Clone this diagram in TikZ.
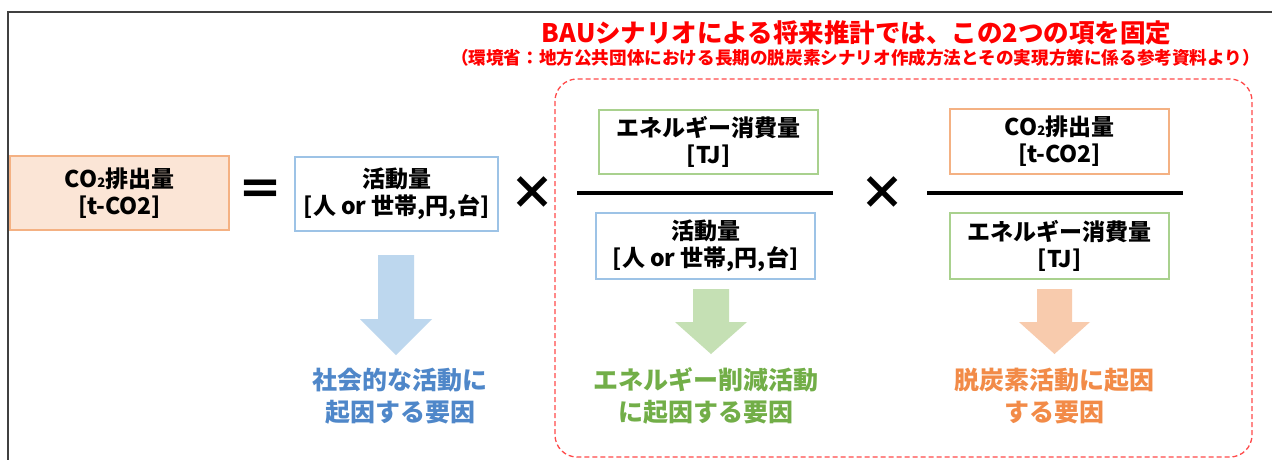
\documentclass[tikz,border=0pt]{standalone}
\usepackage{fontspec}
\setmainfont{Noto Sans CJK JP}
\definecolor{frameGray}{HTML}{404040}
\definecolor{orFill}{HTML}{FBE5D6}
\definecolor{orLine}{HTML}{F4B183}
\definecolor{blLine}{HTML}{9DC3E6}
\definecolor{grLine}{HTML}{A9D18E}
\definecolor{blArrow}{HTML}{BDD7EE}
\definecolor{grArrow}{HTML}{C5E0B4}
\definecolor{orArrow}{HTML}{F8CBAD}
\definecolor{blText}{HTML}{4F87C9}
\definecolor{grText}{HTML}{72AE48}
\definecolor{orText}{HTML}{F28B48}
\definecolor{titleRed}{HTML}{FF0000}
\definecolor{dashRed}{HTML}{FF4B4B}
\tikzset{
  termbox/.style={draw, line width=1.3pt, minimum width=219pt, minimum height=66pt,
    align=center, inner sep=0pt, font=\fontsize{23}{27}\selectfont\bfseries},
  lbl/.style={align=center, inner sep=0pt, font=\fontsize{25}{31.5}\selectfont\bfseries},
  opsign/.style={inner sep=0pt, font=\fontsize{46}{46}\selectfont\bfseries},
  fracbar/.style={line width=4pt, black},
}
\newcommand{\smalltwo}{{\fontsize{13}{13}\selectfont 2}}
\begin{document}
\begin{tikzpicture}[x=1pt,y=-1pt]
\useasboundingbox (0,0) rectangle (1272,459);
\clip (0,0) rectangle (1272,459);
\fill[white] (0,0) rectangle (1272,459);
% outer frame
\draw[frameGray, line width=2.2pt] (8,470) -- (8,12) -- (1290,12);
% dashed region
\draw[dashRed, line width=1.3pt, dash pattern=on 5pt off 3pt, rounded corners=22pt] (555,79) rectangle (1252,457);
% titles
\node[inner sep=0pt, text=titleRed, font=\fontsize{25.5}{30}\selectfont\bfseries] (title) at (856.5,33) {BAUシナリオによる将来推計では、この2つの項を固定};
\node[inner sep=0pt, text=titleRed, font=\fontsize{17.6}{20}\selectfont\bfseries] (source) at (855.5,58) {（環境省：地方公共団体における長期の脱炭素シナリオ作成方法とその実現方策に係る参考資料より）};
% left side
\node[termbox, draw=orLine, fill=orFill, minimum height=74pt] (co2L) at (119.5,193) {CO\smalltwo 排出量\\{[t-CO2]}};
\node[opsign] (eq) at (260,193) {＝};
\node[termbox, draw=blLine, minimum width=203pt, minimum height=74pt] (act1) at (396.5,194) {活動量\\{[人 or 世帯,円,台]}};
\node[opsign] (times1) at (532,193) {×};
% fraction 1
\node[termbox, draw=grLine, minimum height=64pt] (energyN) at (708.5,142) {エネルギー消費量\\{[TJ]}};
\draw[fracbar] (577,193) -- (833,193);
\node[termbox, draw=blLine] (act2) at (705.5,246) {活動量\\{[人 or 世帯,円,台]}};
\node[opsign] (times2) at (882,193) {×};
% fraction 2
\node[termbox, draw=orLine, minimum height=65pt] (co2N) at (1059.5,141.5) {CO\smalltwo 排出量\\{[t-CO2]}};
\draw[fracbar] (927,193) -- (1183,193);
\node[termbox, draw=grLine] (energyD) at (1059.5,246) {エネルギー消費量\\{[TJ]}};
% block arrows
\fill[blArrow] (378,255) -- (414,255) -- (414,319) -- (432,319) -- (396,355) -- (360,319) -- (378,319) -- cycle;
\fill[grArrow] (693,289) -- (729,289) -- (729,322) -- (747,322) -- (711,354) -- (675,322) -- (693,322) -- cycle;
\fill[orArrow] (1037,289) -- (1072,289) -- (1072,322) -- (1090,322) -- (1054.5,354) -- (1019,322) -- (1037,322) -- cycle;
% labels
\node[lbl, text=blText] (lblA) at (400,396) {社会的な活動に\\起因する要因};
\node[lbl, text=grText] (lblB) at (706,396) {エネルギー削減活動\\に起因する要因};
\node[lbl, text=orText] (lblC) at (1054,396) {脱炭素活動に起因\\する要因};
\end{tikzpicture}
\end{document}
